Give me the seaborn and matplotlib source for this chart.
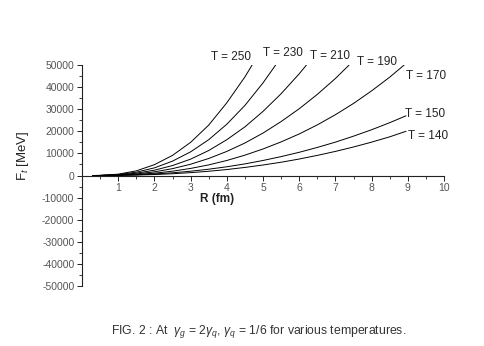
import matplotlib
matplotlib.use("Agg")
import matplotlib.pyplot as plt
from matplotlib.ticker import MultipleLocator, FixedLocator
import seaborn as sns
import pandas as pd

# ---- data (R in fm, F_t in MeV) ----
temps = [250, 230, 210, 190, 170, 150, 140]

r_250 = [0.3, 0.5, 1.0, 1.5, 2.0, 2.5, 3.0, 3.5, 4.0, 4.5, 4.7]
f_250 = [0, 40, 600, 2100, 4900, 9100, 15000, 22800, 32900, 44600, 50000]

r_230 = [0.3, 0.5, 1.0, 1.5, 2.0, 2.5, 3.0, 3.5, 4.0, 4.5, 5.0, 5.35]
f_230 = [0, 30, 420, 1500, 3450, 6500, 10700, 16200, 23200, 31700, 41900, 50000]

r_210 = [0.3, 0.5, 1.0, 1.5, 2.0, 2.5, 3.0, 3.5, 4.0, 4.5, 5.0, 5.5, 6.0, 6.2]
f_210 = [0, 20, 290, 1050, 2400, 4500, 7400, 11300, 16200, 22000, 29000, 37000, 46000, 50000]

r_190 = [0.3, 0.5, 1.0, 1.5, 2.0, 2.5, 3.0, 3.5, 4.0, 4.5, 5.0, 5.5, 6.0, 6.5, 7.0, 7.38]
f_190 = [0, 15, 200, 700, 1650, 3100, 5100, 7700, 10900, 14700, 19200, 24400, 30200, 36700, 43900, 50000]

r_170 = [0.3, 0.5, 1.0, 1.5, 2.0, 2.5, 3.0, 3.5, 4.0, 4.5, 5.0, 5.5, 6.0, 6.5, 7.0, 7.5, 8.0, 8.5, 8.9]
f_170 = [0, 10, 130, 450, 1050, 1950, 3200, 4800, 6800, 9200, 12000, 15200, 18800, 22900, 27500, 32600, 38300, 44500, 50000]

r_150 = [0.3, 0.5, 1.0, 1.5, 2.0, 2.5, 3.0, 3.5, 4.0, 4.5, 5.0, 5.5, 6.0, 6.5, 7.0, 7.5, 8.0, 8.5, 8.95]
f_150 = [0, 8, 100, 320, 690, 1220, 1940, 2850, 3950, 5250, 6800, 8550, 10500, 12700, 15100, 17800, 20700, 23900, 27000]

r_140 = [0.3, 0.5, 1.0, 1.5, 2.0, 2.5, 3.0, 3.5, 4.0, 4.5, 5.0, 5.5, 6.0, 6.5, 7.0, 7.5, 8.0, 8.5, 8.95]
f_140 = [0, 5, 60, 200, 440, 800, 1290, 1920, 2700, 3650, 4750, 6000, 7450, 9100, 10900, 12900, 15100, 17500, 20000]

label_text = ["T = 250", "T = 230", "T = 210", "T = 190", "T = 170", "T = 150", "T = 140"]

x_ticks = [1, 2, 3, 4, 5, 6, 7, 8, 9, 10]
y_ticks = [50000, 40000, 30000, 20000, 10000, 0, -10000, -20000, -30000, -40000, -50000]

caption = r"FIG. 2 : At  $\gamma_g$ = 2$\gamma_q$, $\gamma_q$ = 1/6 for various temperatures."

# ---- build long-form table ----
rs = [r_250, r_230, r_210, r_190, r_170, r_150, r_140]
fs = [f_250, f_230, f_210, f_190, f_170, f_150, f_140]
rows = []
for t, r, f in zip(temps, rs, fs):
    for ri, fi in zip(r, f):
        rows.append({"T": t, "R": ri, "F": fi})
df = pd.DataFrame(rows)

sns.set_style("white")
plt.rcParams["font.family"] = ["Liberation Sans", "DejaVu Sans"]
plt.rcParams["mathtext.fontset"] = "custom"
plt.rcParams["mathtext.rm"] = "Liberation Sans"
plt.rcParams["mathtext.it"] = "Liberation Sans:italic"

fig = plt.figure(figsize=(4.85, 3.46), dpi=100)
ax = fig.add_axes([82 / 485, 1 - 286 / 346, (444 - 82) / 485, (286 - 65) / 346])

sns.lineplot(data=df, x="R", y="F", hue="T", units="T", estimator=None,
             palette={t: "black" for t in temps}, legend=False,
             linewidth=0.7, ax=ax, sort=False)

ax.set_xlim(0, 10)
ax.set_ylim(-50000, 50000)

for s in ["top", "right"]:
    ax.spines[s].set_visible(False)
ax.spines["bottom"].set_position(("data", 0))
ax.spines["left"].set_linewidth(0.8)
ax.spines["bottom"].set_linewidth(0.8)
ax.spines["left"].set_color("#222222")
ax.spines["bottom"].set_color("#222222")

ax.xaxis.set_major_locator(FixedLocator(x_ticks))
ax.xaxis.set_minor_locator(MultipleLocator(0.5))
ax.yaxis.set_major_locator(FixedLocator(y_ticks))
ax.yaxis.set_minor_locator(MultipleLocator(5000))
ax.set_xticklabels([str(v) for v in x_ticks])
ax.set_yticklabels([str(v) for v in y_ticks])
ax.tick_params(axis="both", which="major", direction="out", length=3.5, width=0.7,
               labelsize=7.5, labelcolor="#555555", color="#222222", pad=2,
               bottom=True, left=True)
ax.tick_params(axis="both", which="minor", direction="out", length=2, width=0.6,
               color="#222222", bottom=True, left=True)

ax.set_xlabel("")
ax.set_ylabel(r"F$_t$ [MeV]", fontsize=9.5, color="#222222")
ax.yaxis.set_label_coords(-0.14, 0.59)

ax.text(3.72, -10600, "R (fm)", fontsize=8.5, fontweight="bold", ha="center",
        va="center", color="#222222")

label_pos = [(3.55, 53800), (4.99, 55400), (6.31, 54100), (7.60, 51400),
             (8.95, 45000), (8.93, 27800), (9.01, 17900)]
for txt, (lx, ly) in zip(label_text, label_pos):
    ax.text(lx, ly, txt, fontsize=8.5, ha="left", va="center", color="#222222",
            clip_on=False)

fig.text(259 / 485, 1 - 331 / 346, caption, fontsize=8.8, ha="center",
         va="center", color="#333333")

fig.savefig("out.png", dpi=100)
